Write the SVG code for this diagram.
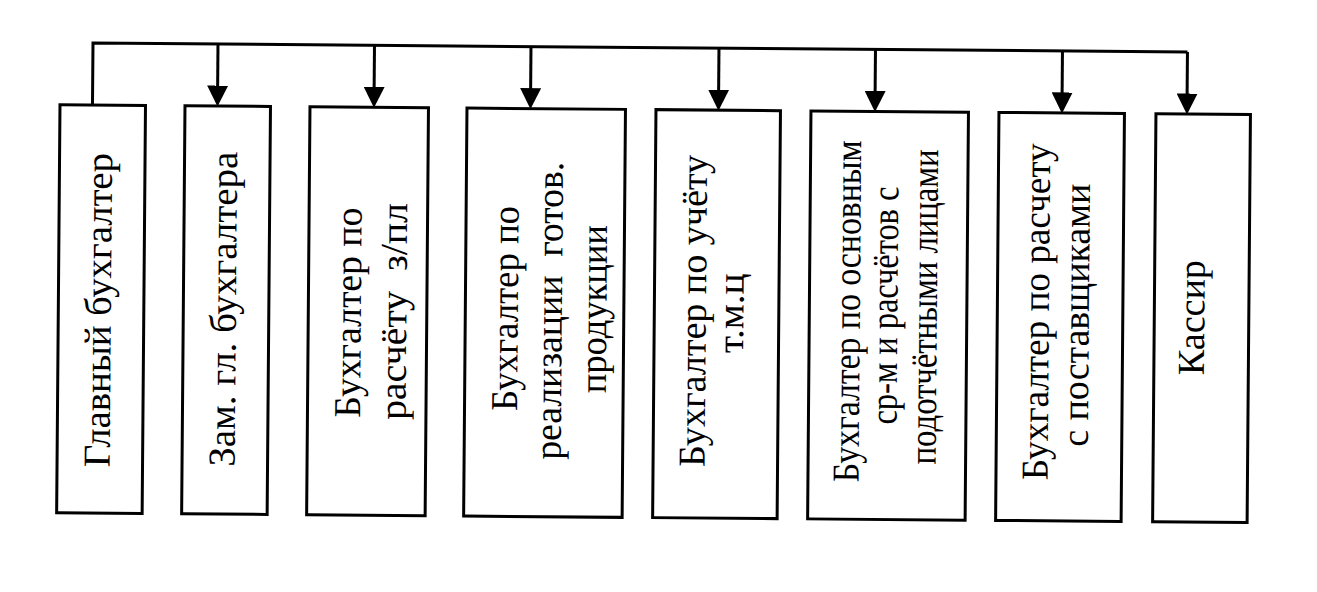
<svg xmlns="http://www.w3.org/2000/svg" width="1317" height="592" viewBox="0 0 1317 592">
<style>
.box{fill:#fff;stroke:#000;stroke-width:3}
.con{fill:none;stroke:#000;stroke-width:3}
.t{font-family:"Liberation Serif","Times New Roman",serif;font-size:38px;fill:#000;text-anchor:middle}
</style>
<defs>
<marker id="ah" viewBox="0 0 20 20" refX="10" refY="10" markerWidth="21" markerHeight="21" markerUnits="userSpaceOnUse" orient="auto">
<path d="M0,0 L20,10 L0,20 z" fill="#000"/>
</marker>
</defs>
<rect width="1317" height="592" fill="#fff"/>
<g transform="rotate(0.47 92 43)">
<g id="connectors">
<path class="con" d="M93,105 V43 H1187.5"/>
<path class="con" d="M218,43 V95" marker-end="url(#ah)"/>
<path class="con" d="M374.5,43 V95" marker-end="url(#ah)"/>
<path class="con" d="M531,43 V95" marker-end="url(#ah)"/>
<path class="con" d="M719,43 V95" marker-end="url(#ah)"/>
<path class="con" d="M875.5,43 V95" marker-end="url(#ah)"/>
<path class="con" d="M1062.5,43 V95" marker-end="url(#ah)"/>
<path class="con" d="M1187.5,43 V95" marker-end="url(#ah)"/>
</g>
<g id="n1">
<rect class="box" x="60.5" y="105" width="85.5" height="408"/>
<text class="t" transform="translate(113 0) rotate(-90)" x="-310" y="0" textLength="314" lengthAdjust="spacingAndGlyphs">Главный бухгалтер</text>
</g>
<g id="n2">
<rect class="box" x="185.5" y="105" width="85.5" height="408"/>
<text class="t" transform="translate(238 0) rotate(-90)" x="-308" y="0" textLength="315" lengthAdjust="spacingAndGlyphs">Зам. гл. бухгалтера</text>
</g>
<g id="n3">
<rect class="box" x="310.5" y="105" width="118.5" height="408"/>
<text class="t" transform="translate(363 0) rotate(-90)" x="-310.5" y="0" textLength="210" lengthAdjust="spacingAndGlyphs">Бухгалтер по</text>
<text class="t" transform="translate(408.5 0) rotate(-90)" x="-309" y="0" textLength="217" lengthAdjust="spacingAndGlyphs" xml:space="preserve">расчёту  з/пл</text>
</g>
<g id="n4">
<rect class="box" x="467.5" y="105" width="158.5" height="408"/>
<text class="t" transform="translate(520 0) rotate(-90)" x="-305" y="0" textLength="205" lengthAdjust="spacingAndGlyphs">Бухгалтер по</text>
<text class="t" transform="translate(564 0) rotate(-90)" x="-307" y="0" textLength="298" lengthAdjust="spacingAndGlyphs" xml:space="preserve">реализации  готов.</text>
<text class="t" transform="translate(608.5 0) rotate(-90)" x="-305" y="0" textLength="168" lengthAdjust="spacingAndGlyphs">продукции</text>
</g>
<g id="n5">
<rect class="box" x="656.5" y="105" width="124.5" height="408"/>
<text class="t" transform="translate(708 0) rotate(-90)" x="-306" y="0" textLength="312" lengthAdjust="spacingAndGlyphs">Бухгалтер по учёту</text>
<text class="t" transform="translate(745.5 0) rotate(-90)" x="-308" y="0" textLength="80" lengthAdjust="spacingAndGlyphs">т.м.ц</text>
</g>
<g id="n6">
<rect class="box" x="811.5" y="105" width="157.5" height="408"/>
<text class="t" transform="translate(862 0) rotate(-90)" x="-305" y="0" textLength="342" lengthAdjust="spacingAndGlyphs">Бухгалтер по основным</text>
<text class="t" transform="translate(899.5 0) rotate(-90)" x="-299" y="0" textLength="238" lengthAdjust="spacingAndGlyphs">ср-м и расчётов с</text>
<text class="t" transform="translate(939 0) rotate(-90)" x="-300" y="0" textLength="315" lengthAdjust="spacingAndGlyphs">подотчётными лицами</text>
</g>
<g id="n7">
<rect class="box" x="999.5" y="105" width="125.5" height="408"/>
<text class="t" transform="translate(1051 0) rotate(-90)" x="-304" y="0" textLength="337" lengthAdjust="spacingAndGlyphs">Бухгалтер по расчету</text>
<text class="t" transform="translate(1091 0) rotate(-90)" x="-307" y="0" textLength="263" lengthAdjust="spacingAndGlyphs">с поставщиками</text>
</g>
<g id="n8">
<rect class="box" x="1156.5" y="105" width="94.5" height="408"/>
<text class="t" transform="translate(1206.5 0) rotate(-90)" x="-308.5" y="0" textLength="115" lengthAdjust="spacingAndGlyphs">Кассир</text>
</g>
</g>
</svg>
